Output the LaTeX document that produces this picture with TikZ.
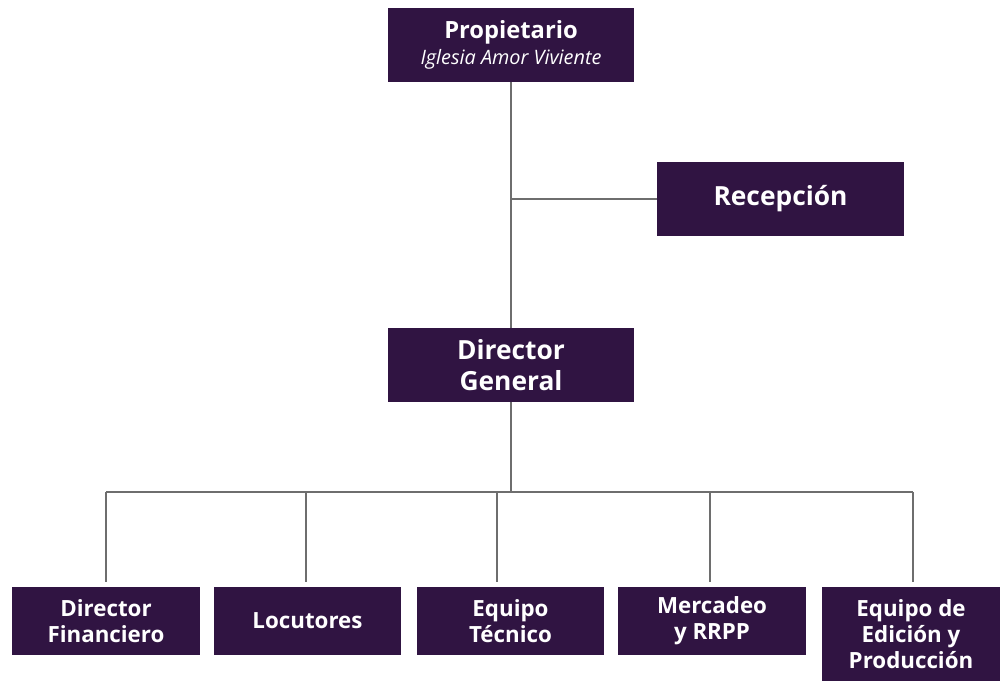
\documentclass[tikz,border=0pt]{standalone}
\usepackage{fontspec}
\setmainfont{Open Sans}
\usepackage{tikz}
\usetikzlibrary{positioning}
\definecolor{morado}{HTML}{301442}
\definecolor{linea}{HTML}{6E6E6E}

\begin{document}
\begin{tikzpicture}[x=0.02cm,y=-0.02cm,
  caja/.style={fill=morado,text=white,align=center,inner sep=0pt},
  grande/.style={caja,minimum width=4.94cm,minimum height=1.48cm,font=\bfseries\fontsize{15}{17.6}\selectfont},
  chica/.style={caja,minimum width=3.76cm,minimum height=1.36cm,font=\bfseries\fontsize{12.7}{14.7}\selectfont},
  enlace/.style={draw=linea,line width=0.7pt}]
\useasboundingbox (0,0) rectangle (1000,681);
\node[grande,font=\bfseries\fontsize{13.5}{14.5}\selectfont](prop) at (511,45){Propietario\\{\mdseries\itshape\fontsize{11.3}{13}\selectfont Iglesia Amor Viviente}};
\node[grande](rec) at (780.5,199){Recepción};
\node[grande](dirg) at (511,365){Director\\General};
\node[chica](fin) at (106,621){Director\\Financiero};
\node[chica](loc) at (307.5,621){Locutores};
\node[chica](tec) at (510.5,621){Equipo\\Técnico};
\node[chica](mer) at (712,621){Mercadeo\\y RRPP};
\node[chica,minimum width=3.56cm,minimum height=1.88cm](edi) at (911,634){Equipo de\\Edición y\\Producción};
\coordinate (bar) at (511,492);
\draw[enlace](prop)--(dirg);
\draw[enlace](prop|-rec)--(rec.west);
\draw[enlace](dirg)--(bar);
\draw[enlace](106,492)--(913,492);
\foreach \n/\x in {fin/106,loc/306,tec/497,mer/710,edi/913}
  \draw[enlace](\x,492)--([yshift=0.1cm]\n.north-|\x,0);
\end{tikzpicture}
\end{document}
